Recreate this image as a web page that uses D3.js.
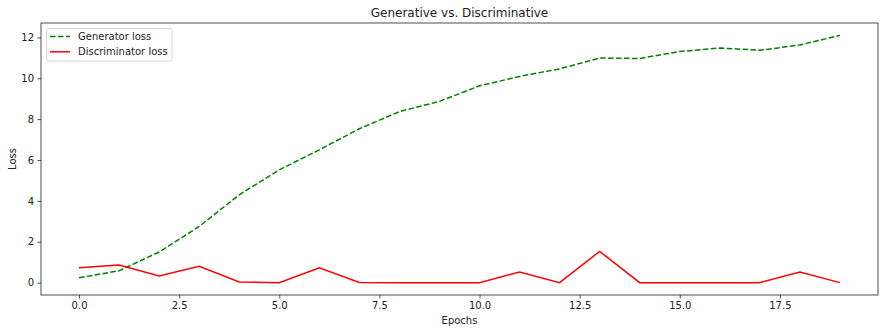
<!DOCTYPE html>
<html><head><meta charset="utf-8">
<script src="https://cdn.jsdelivr.net/npm/d3@7"></script>
<style>
body{margin:0;background:#fff;}
text{font-family:"DejaVu Sans",sans-serif;fill:#222;}
</style></head>
<body><svg id="c" width="888" height="333"></svg>
<script>
const epochs = [0,1,2,3,4,5,6,7,8,9,10,11,12,13,14,15,16,17,18,19];
const generatorLoss = [0.24,0.58,1.5,2.75,4.3,5.52,6.5,7.53,8.37,8.87,9.63,10.09,10.46,10.99,10.97,11.31,11.48,11.37,11.63,12.1];
const discriminatorLoss = [0.73,0.86,0.32,0.80,0.03,0.0,0.73,0.01,0.0,0.0,0.0,0.52,0.0,1.53,0.0,0.0,0.0,0.0,0.52,0.0];
const xTicks = [0,2.5,5,7.5,10,12.5,15,17.5];
const yTicks = [0,2,4,6,8,10,12];

const svg = d3.select("#c");
const L=41,R=878,T=23,B=295;
const x = d3.scaleLinear().domain([-0.95,19.95]).range([L,R]);
const yMin=-0.605, yMax=12.705;
const y = d3.scaleLinear().domain([yMin,yMax]).range([B,T]);

const xa = svg.append("g").attr("transform",`translate(0,${B})`)
  .call(d3.axisBottom(x).tickValues(xTicks).tickFormat(d3.format(".1f")).tickSize(3.5).tickPadding(3.5));
const ya = svg.append("g").attr("transform",`translate(${L},0)`)
  .call(d3.axisLeft(y).tickValues(yTicks).tickFormat(d3.format("d")).tickSize(3.5).tickPadding(3.5));
[xa,ya].forEach(a=>{a.select(".domain").remove();a.selectAll("text").attr("font-size",10).attr("font-family","DejaVu Sans").attr("fill","#222");a.selectAll("line").attr("stroke","#222").attr("stroke-width",0.8);});

const line = d3.line().x((d,i)=>x(epochs[i])).y(d=>y(d));
svg.append("path").datum(generatorLoss).attr("d",line).attr("fill","none")
  .attr("stroke","#008000").attr("stroke-width",1.5).attr("stroke-dasharray","5.55,2.4");
svg.append("path").datum(discriminatorLoss).attr("d",line).attr("fill","none")
  .attr("stroke","#ff0000").attr("stroke-width",1.5);

svg.append("rect").attr("x",L).attr("y",T).attr("width",R-L).attr("height",B-T)
  .attr("fill","none").attr("stroke","#222").attr("stroke-width",0.8);

svg.append("text").attr("x",(L+R)/2).attr("y",16.5).attr("text-anchor","middle").attr("font-size",12).text("Generative vs. Discriminative");
svg.append("text").attr("x",(L+R)/2).attr("y",324).attr("text-anchor","middle").attr("font-size",10).text("Epochs");
svg.append("text").attr("transform",`translate(15.5,${(T+B)/2}) rotate(-90)`).attr("text-anchor","middle").attr("font-size",10).text("Loss");

// legend
const lg = svg.append("g");
lg.append("rect").attr("x",46.5).attr("y",28.5).attr("width",125.5).attr("height",32.5).attr("rx",2)
  .attr("fill","#fff").attr("fill-opacity",0.8).attr("stroke","#cccccc").attr("stroke-width",0.8);
const items=[{n:"Generator loss",c:"#008000",d:"5.55,2.4"},{n:"Discriminator loss",c:"#ff0000",d:null}];
items.forEach((it,i)=>{
  const yy=36.5+i*15.3;
  lg.append("line").attr("x1",50).attr("x2",70).attr("y1",yy).attr("y2",yy).attr("stroke",it.c).attr("stroke-width",1.5).attr("stroke-dasharray",it.d);
  lg.append("text").attr("x",78).attr("y",yy+3.6).attr("font-size",10).text(it.n);
});
</script></body></html>
